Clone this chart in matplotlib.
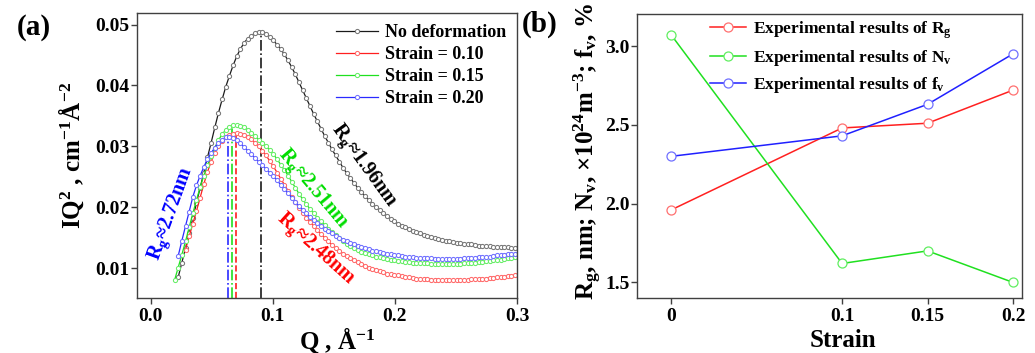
import matplotlib
matplotlib.use('Agg')
import matplotlib.pyplot as plt

plt.rcParams['font.family'] = ['Liberation Serif', 'DejaVu Serif']
plt.rcParams['font.weight'] = 'bold'
plt.rcParams['axes.labelweight'] = 'bold'
plt.rcParams['mathtext.fontset'] = 'custom'
plt.rcParams['mathtext.rm'] = 'Liberation Serif:bold'
plt.rcParams['mathtext.it'] = 'Liberation Serif:italic:bold'
plt.rcParams['mathtext.bf'] = 'Liberation Serif:bold'

# ---------------- data: panel (a) ----------------
Q = [0.0195, 0.0225, 0.0255, 0.0285, 0.0315, 0.0345, 0.0375, 0.0405, 0.0435, 0.0465,
     0.0495, 0.0525, 0.0555, 0.0585, 0.0615, 0.0645, 0.0675, 0.0705, 0.0735, 0.0765,
     0.0795, 0.0825, 0.0855, 0.0885, 0.0915, 0.0945, 0.0975, 0.1005, 0.1035, 0.1065,
     0.1095, 0.1125, 0.1155, 0.1185, 0.1215, 0.1245, 0.1275, 0.1305, 0.1335, 0.1365,
     0.1395, 0.1425, 0.1455, 0.1485, 0.1515, 0.1545, 0.1575, 0.1605, 0.1635, 0.1665,
     0.1695, 0.1725, 0.1755, 0.1785, 0.1815, 0.1845, 0.1875, 0.1905, 0.1935, 0.1965,
     0.1995, 0.2025, 0.2055, 0.2085, 0.2115, 0.2145, 0.2175, 0.2205, 0.2235, 0.2265,
     0.2295, 0.2325, 0.2355, 0.2385, 0.2415, 0.2445, 0.2475, 0.2505, 0.2535, 0.2565,
     0.2595, 0.2625, 0.2655, 0.2685, 0.2715, 0.2745, 0.2775, 0.2805, 0.2835, 0.2865,
     0.2895, 0.2925, 0.2955, 0.2985]

# No deformation (starts at Q[1])
iq_none = [0.0085, 0.0109, 0.0133, 0.0157, 0.0182, 0.0207, 0.0232, 0.0257, 0.0282,
           0.0306, 0.0331, 0.0355, 0.0377, 0.0398, 0.0416, 0.0433, 0.0448, 0.0460, 0.0470,
           0.0477, 0.0482, 0.0486, 0.0488, 0.0488, 0.0485, 0.0480, 0.0474, 0.0467, 0.0460,
           0.0451, 0.0441, 0.0430, 0.0418, 0.0405, 0.0392, 0.0379, 0.0366, 0.0353, 0.0341,
           0.0329, 0.0317, 0.0306, 0.0295, 0.0285, 0.0275, 0.0265, 0.0256, 0.0248, 0.0240,
           0.0232, 0.0225, 0.0218, 0.0212, 0.0206, 0.0200, 0.0195, 0.0190, 0.0185, 0.0181,
           0.0177, 0.0173, 0.0170, 0.0167, 0.0164, 0.0161, 0.0159, 0.0157, 0.0155, 0.0153,
           0.0151, 0.0149, 0.0148, 0.0146, 0.0145, 0.0144, 0.0143, 0.0142, 0.0141, 0.0140,
           0.0139, 0.0139, 0.0138, 0.0137, 0.0137, 0.0136, 0.0136, 0.0135, 0.0135, 0.0134,
           0.0134, 0.0134, 0.0133, 0.0133]

# Strain = 0.10 (starts at Q[3])
iq_010 = [0.0130, 0.0152, 0.0173, 0.0194, 0.0216, 0.0238, 0.0258,
          0.0275, 0.0289, 0.0300, 0.0309, 0.0315, 0.0319, 0.0321, 0.0322, 0.0321, 0.0319,
          0.0316, 0.0312, 0.0306, 0.0300, 0.0293, 0.0285, 0.0276, 0.0267, 0.0257, 0.0247,
          0.0237, 0.0227, 0.0217, 0.0208, 0.0199, 0.0191, 0.0183, 0.0176, 0.0169, 0.0162,
          0.0156, 0.0150, 0.0144, 0.0138, 0.0133, 0.0128, 0.0124, 0.0120, 0.0116, 0.0113,
          0.0110, 0.0107, 0.0104, 0.0101, 0.0099, 0.0097, 0.0095, 0.0093, 0.0091, 0.0090,
          0.0089, 0.0088, 0.0087, 0.0086, 0.0085, 0.0084, 0.0083, 0.0083, 0.0082, 0.0082,
          0.0081, 0.0081, 0.0081, 0.0081, 0.0081, 0.0081, 0.0081, 0.0081, 0.0081, 0.0081,
          0.0081, 0.0082, 0.0082, 0.0082, 0.0083, 0.0083, 0.0084, 0.0084, 0.0085, 0.0085,
          0.0086, 0.0087, 0.0087, 0.0088]

# Strain = 0.15 (starts at Q[0])
iq_015 = [0.0080, 0.0101, 0.0122, 0.0144, 0.0167, 0.0190, 0.0212, 0.0233, 0.0252, 0.0269,
          0.0284, 0.0298, 0.0310, 0.0320, 0.0327, 0.0332, 0.0335, 0.0335, 0.0334, 0.0331,
          0.0327, 0.0322, 0.0317, 0.0311, 0.0305, 0.0300, 0.0294, 0.0287, 0.0279, 0.0270,
          0.0261, 0.0252, 0.0242, 0.0232, 0.0222, 0.0213, 0.0205, 0.0197, 0.0190, 0.0183,
          0.0177, 0.0171, 0.0165, 0.0159, 0.0154, 0.0149, 0.0144, 0.0140, 0.0136, 0.0133,
          0.0130, 0.0127, 0.0125, 0.0123, 0.0121, 0.0119, 0.0118, 0.0116, 0.0115, 0.0114,
          0.0113, 0.0112, 0.0111, 0.0110, 0.0110, 0.0109, 0.0109, 0.0108, 0.0108, 0.0108,
          0.0107, 0.0107, 0.0107, 0.0107, 0.0107, 0.0107, 0.0107, 0.0107, 0.0107, 0.0108,
          0.0108, 0.0109, 0.0109, 0.0110, 0.0110, 0.0111, 0.0112, 0.0113, 0.0113, 0.0114,
          0.0115, 0.0116, 0.0117, 0.0118]

# Strain = 0.20 (starts at Q[1])
iq_020 = [0.0120, 0.0145, 0.0169, 0.0193, 0.0217, 0.0236, 0.0252, 0.0266, 0.0279,
          0.0289, 0.0298, 0.0306, 0.0311, 0.0315, 0.0316, 0.0314, 0.0310, 0.0305, 0.0299,
          0.0293, 0.0287, 0.0281, 0.0275, 0.0269, 0.0263, 0.0257, 0.0251, 0.0244, 0.0237,
          0.0230, 0.0223, 0.0216, 0.0209, 0.0202, 0.0196, 0.0190, 0.0184, 0.0179, 0.0174,
          0.0169, 0.0165, 0.0161, 0.0157, 0.0153, 0.0150, 0.0147, 0.0144, 0.0141, 0.0139,
          0.0137, 0.0135, 0.0133, 0.0131, 0.0129, 0.0128, 0.0126, 0.0125, 0.0124, 0.0123,
          0.0122, 0.0121, 0.0120, 0.0119, 0.0118, 0.0118, 0.0117, 0.0117, 0.0116, 0.0116,
          0.0116, 0.0115, 0.0115, 0.0115, 0.0115, 0.0115, 0.0115, 0.0115, 0.0115, 0.0116,
          0.0116, 0.0117, 0.0117, 0.0118, 0.0118, 0.0119, 0.0119, 0.0120, 0.0121, 0.0121,
          0.0122, 0.0123, 0.0124, 0.0124]

series_labels = ['No deformation', 'Strain = 0.10', 'Strain = 0.15', 'Strain = 0.20']
series_values = [iq_none, iq_010, iq_015, iq_020]
series_start = [1, 3, 0, 1]
peak_q = [0.0904, 0.0699, 0.0669, 0.0631]
rg_labels = ['1.96', '2.48', '2.51', '2.72']

# ---------------- data: panel (b) ----------------
strain = [0, 0.1, 0.15, 0.2]
strain_ticklabels = ['0', '0.1', '0.15', '0.2']
rg_exp = [1.96, 2.48, 2.51, 2.72]
nv_exp = [3.07, 1.62, 1.70, 1.50]
fv_exp = [2.30, 2.43, 2.63, 2.95]

# ---------------- styling ----------------
line_colors = ['#1a1a1a', '#ff1f1f', '#1fe01f', '#2a2aff']
marker_colors = ['#777777', '#ff6a6a', '#66ee66', '#7070ff']
text_colors = ['#000000', '#ff0000', '#00dd00', '#0000ff']
vstyles = ['-.', '--', '-.', '-.']
spine_color = '#404040'

fig = plt.figure(figsize=(10.35, 3.53), dpi=100)
axL = fig.add_axes([0.1324, 0.1558, 0.3671, 0.8074])
axR = fig.add_axes([0.6155, 0.1558, 0.3720, 0.8045])

YMIN_L = 0.0051
for lab, vals, s, lc, mc in zip(series_labels, series_values, series_start,
                                 line_colors, marker_colors):
    axL.plot(Q[s:s + len(vals)], vals, color=lc, lw=0.9, marker='o', ms=3.0,
             mfc='white', mec=mc, mew=0.75, label=lab)

for q, vals, c, ls in zip(peak_q, series_values, line_colors, vstyles):
    axL.vlines(q, YMIN_L, max(vals), colors=c, linestyles=ls, lw=1.2, zorder=1)

# Rg annotations
ann_pos = [(0.1745, 0.0268, -54), (0.1352, 0.0132, -42),
           (0.1325, 0.0230, -50), (0.0172, 0.0189, 70)]
for (x, y, rot), rg, tc in zip(ann_pos, rg_labels, text_colors):
    axL.text(x, y, r'R$_\mathregular{g}$≈' + rg + 'nm', color=tc, fontsize=14.5,
             rotation=rot, rotation_mode='anchor', ha='center', va='center')

axL.set_xlim(-0.0112, 0.3)
axL.set_ylim(YMIN_L, 0.0519)
axL.set_xticks([0.0, 0.1, 0.2, 0.3])
axL.set_xticklabels(['0.0', '0.1', '0.2', '0.3'])
axL.set_yticks([0.01, 0.02, 0.03, 0.04, 0.05])
axL.set_yticklabels(['0.01', '0.02', '0.03', '0.04', '0.05'])

axL.legend(loc='upper right', bbox_to_anchor=(1.0, 1.0), frameon=False, fontsize=13,
           handlelength=2.3, handletextpad=0.4, labelspacing=0.28,
           borderaxespad=0.3, borderpad=0.3)

axL.set_xlabel(r'Q , Å$^\mathregular{-1}$', fontsize=18, va='center', ha='center')
axL.xaxis.set_label_coords(0.526, -0.148)
axL.set_ylabel(r'IQ$^\mathregular{2}$ , cm$^\mathregular{-1}$Å$^\mathregular{-2}$',
               fontsize=18, va='center', ha='center')
axL.yaxis.set_label_coords(-0.172, 0.50)

# panel (b)
rlabels = [r'Experimental results of R$_\mathregular{g}$',
           r'Experimental results of N$_\mathregular{v}$',
           r'Experimental results of f$_\mathregular{v}$']
for vals, lab, lc, mc in zip([rg_exp, nv_exp, fv_exp], rlabels,
                             ['#ff2020', '#20e020', '#2020ff'],
                             ['#ff7070', '#60ee60', '#7070ff']):
    axR.plot(strain, vals, color=lc, lw=1.1, marker='o', ms=6.5, mfc='white',
             mec=mc, mew=0.9, label=lab)

axR.set_xlim(-0.02, 0.2053)
axR.set_ylim(1.401, 3.203)
axR.set_xticks(strain)
axR.set_xticklabels(strain_ticklabels)
axR.set_yticks([1.5, 2.0, 2.5, 3.0])
axR.set_yticklabels(['1.5', '2.0', '2.5', '3.0'])
axR.legend(loc='upper left', bbox_to_anchor=(0.176, 1.0), frameon=False, fontsize=12.5,
           handlelength=2.1, handletextpad=0.4, labelspacing=0.42,
           borderaxespad=0.0, borderpad=0.3)
axR.set_xlabel('Strain', fontsize=18, va='center', ha='center')
axR.xaxis.set_label_coords(0.534, -0.148)
axR.set_ylabel(r'R$_\mathregular{g}$, nm; N$_\mathregular{v}$, ×10$^\mathregular{24}$m$^\mathregular{-3}$; f$_\mathregular{v}$, %',
               fontsize=18, va='center', ha='center')
axR.yaxis.set_label_coords(-0.129, 0.515)

for ax in (axL, axR):
    for sp in ax.spines.values():
        sp.set_color(spine_color)
        sp.set_linewidth(1.0)
    ax.tick_params(direction='out', length=4, width=1, color=spine_color,
                   labelsize=14, top=False, right=False)
    ax.tick_params(axis='x', pad=3)
    ax.tick_params(axis='y', pad=1.5)

fig.text(17 / 1035, 1 - 27.5 / 353, '(a)', fontsize=21, ha='left', va='center')
fig.text(522 / 1035, 1 - 24 / 353, '(b)', fontsize=21, ha='left', va='center')

fig.savefig('out.png', dpi=100)
